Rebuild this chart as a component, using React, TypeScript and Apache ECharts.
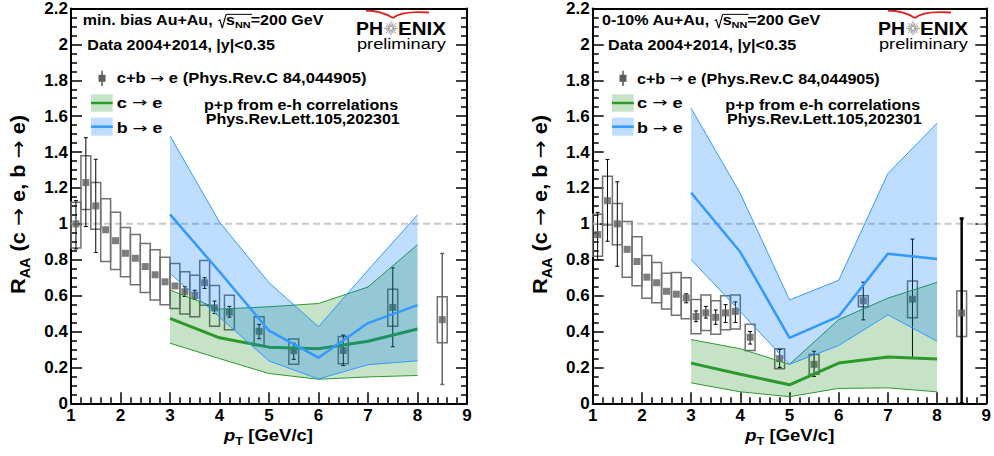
import React, { useEffect, useRef } from 'react';
import * as echarts from 'echarts';

// ---------------- data ----------------
const PT = [1.1, 1.3, 1.5, 1.7, 1.9, 2.1, 2.3, 2.5, 2.7, 2.9, 3.1, 3.3, 3.5, 3.7, 3.9, 4.2, 4.8, 5.5, 6.5, 7.5, 8.5];

// min. bias Au+Au (left panel)
const MB_Y = [1.0, 1.23, 1.1, 0.967, 0.906, 0.836, 0.808, 0.762, 0.716, 0.677, 0.654, 0.622, 0.602, 0.672, 0.532, 0.508, 0.401, 0.293, 0.294, 0.534, 0.466];
const MB_STAT_LO = [0.86, 0.985, 0.84, 0.967, 0.906, 0.836, 0.808, 0.762, 0.716, 0.677, 0.635, 0.595, 0.58, 0.64, 0.5, 0.48, 0.36, 0.245, 0.21, 0.315, 0.105];
const MB_STAT_HI = [1.13, 1.48, 1.36, 0.967, 0.906, 0.836, 0.808, 0.762, 0.716, 0.677, 0.675, 0.65, 0.63, 0.7, 0.57, 0.54, 0.44, 0.335, 0.38, 0.755, 0.835];
const MB_SYS_LO = [0.865, 1.08, 0.97, 0.79, 0.746, 0.705, 0.66, 0.617, 0.575, 0.549, 0.528, 0.497, 0.482, 0.547, 0.43, 0.41, 0.322, 0.217, 0.221, 0.429, 0.337];
const MB_SYS_HI = [1.12, 1.38, 1.23, 1.14, 1.064, 0.98, 0.94, 0.89, 0.856, 0.814, 0.779, 0.733, 0.714, 0.796, 0.657, 0.602, 0.482, 0.359, 0.372, 0.635, 0.594];

// 0-10% Au+Au (right panel)
const C_Y = [0.94, 1.129, 1.0, 0.858, 0.79, 0.703, 0.672, 0.624, 0.608, 0.587, 0.484, 0.504, 0.479, 0.504, 0.512, 0.368, 0.249, 0.217, 0.571, 0.58, 0.503];
const C_STAT_LO = [0.8, 0.903, 0.764, 0.858, 0.79, 0.703, 0.672, 0.605, 0.588, 0.56, 0.455, 0.475, 0.44, 0.45, 0.45, 0.33, 0.2, 0.15, 0.465, 0.255, 0.0];
const C_STAT_HI = [1.064, 1.359, 1.234, 0.858, 0.79, 0.703, 0.672, 0.645, 0.63, 0.61, 0.515, 0.54, 0.52, 0.55, 0.565, 0.4, 0.3, 0.29, 0.675, 0.915, 1.03];
const C_SYS_LO = [0.82, 0.994, 0.884, 0.703, 0.655, 0.586, 0.561, 0.525, 0.49, 0.471, 0.388, 0.405, 0.385, 0.41, 0.414, 0.294, 0.193, 0.162, 0.538, 0.477, 0.372];
const C_SYS_HI = [1.053, 1.265, 1.114, 1.013, 0.928, 0.823, 0.785, 0.725, 0.729, 0.7, 0.578, 0.604, 0.571, 0.6, 0.604, 0.44, 0.304, 0.272, 0.6, 0.681, 0.626];

// model bands (c->e, b->e)
const BAND_X = [3, 4, 5, 6, 7, 8];
const MB_B_UP = [1.49, 1.01, 0.672, 0.427, 0.742, 1.05];
const MB_B_MID = [1.053, 0.733, 0.405, 0.254, 0.447, 0.547];
const MB_B_LO = [0.724, 0.48, 0.236, 0.136, 0.215, 0.237];
const MB_C_UP = [0.631, 0.525, 0.538, 0.556, 0.648, 0.884];
const MB_C_MID = [0.473, 0.365, 0.313, 0.304, 0.346, 0.414];
const MB_C_LO = [0.335, 0.249, 0.166, 0.134, 0.147, 0.155];

const C_B_UP = [1.644, 1.169, 0.576, 0.685, 1.28, 1.561];
const C_B_MID = [1.173, 0.843, 0.365, 0.484, 0.834, 0.804];
const C_B_LO = [0.801, 0.511, 0.217, 0.322, 0.493, 0.346];
const C_C_UP = [0.355, 0.304, 0.217, 0.466, 0.586, 0.674];
const C_C_MID = [0.224, 0.162, 0.103, 0.224, 0.258, 0.247];
const C_C_LO = [0.114, 0.064, 0.037, 0.083, 0.086, 0.064];

const REF_LINE = [[1, 1], [9, 1]];

// ---------------- styles ----------------
const FONT = '"Liberation Sans", Arial, Helvetica, sans-serif';
const ARROW_FONT = '"DejaVu Sans", sans-serif';
const BLUE_FILL = 'rgba(0,120,255,0.25)';
const GREEN_FILL = 'rgba(0,128,0,0.22)';
const BLUE_LINE = '#3399ff';
const GREEN_LINE = '#2b9a2b';
const BOX_HW = 0.1;

let mctx: CanvasRenderingContext2D | null = null;
function textWidth(t: string, size: number, weight: string, italic: boolean, family: string) {
  if (!mctx) mctx = document.createElement('canvas').getContext('2d');
  mctx!.font = `${italic ? 'italic ' : ''}${weight} ${size}px ${family}`;
  return mctx!.measureText(t).width;
}

interface Seg { t?: string; size: number; dy?: number; italic?: boolean; weight?: string; rad?: boolean; over?: boolean; color?: string; family?: string }

function textLine(segs: Seg[], opt: { x: number; y: number; width?: number; sx?: number; sy?: number; rotation?: number; align?: string }) {
  const children: any[] = [];
  let cx = 0;
  let overStart = -1;
  let overEnd = -1;
  let overY = 0;
  for (const s of segs) {
    if (s.rad) {
      const f = s.size;
      const top = -0.76 * f;
      children.push({
        type: 'polyline',
        shape: { points: [[cx + 0.02 * f, -0.3 * f], [cx + 0.13 * f, -0.37 * f], [cx + 0.28 * f, 0.22 * f], [cx + 0.52 * f, top]] },
        style: { stroke: '#000', lineWidth: 1, fill: 'none' },
      });
      cx += 0.52 * f;
      overStart = cx;
      overY = top;
      continue;
    }
    const weight = s.weight ?? 'bold';
    const family = s.family ?? FONT;
    const w = textWidth(s.t!, s.size, weight, !!s.italic, family);
    children.push({
      type: 'text',
      x: cx,
      y: (s.dy ?? 0) - 0.35 * s.size,
      style: {
        text: s.t, fill: s.color ?? '#000', fontSize: s.size, fontWeight: weight,
        fontStyle: s.italic ? 'italic' : 'normal', fontFamily: family, align: 'left', verticalAlign: 'middle',
      },
    });
    cx += w;
    if (s.over) overEnd = cx;
  }
  if (overStart >= 0 && overEnd > overStart) {
    children.push({ type: 'line', shape: { x1: overStart, y1: overY, x2: overEnd + 1, y2: overY }, style: { stroke: '#000', lineWidth: 1 } });
  }
  const sx = opt.width ? opt.width / cx : (opt.sx ?? 1);
  let x = opt.x;
  if (opt.align === 'center') x = opt.x - (cx * sx) / 2;
  return { type: 'group', x, y: opt.y, scaleX: sx, scaleY: opt.sy ?? 1, rotation: opt.rotation ?? 0, children, silent: true };
}

const arrow = (size: number): Seg => ({ t: '→', size, weight: 'normal', family: ARROW_FONT, dy: 0.02 * size });

function logo(cx: number) {
  // cx: centre of the star
  const els: any[] = [];
  const base = 35;
  els.push(textLine([{ t: 'PH', size: 18 }], { x: cx - 8 - 27, y: base, width: 27 }));
  els.push(textLine([{ t: 'ENIX', size: 18 }], { x: cx + 7, y: base, width: 48 }));
  const cy = 28.3;
  const rays: any[] = [];
  for (let k = 0; k < 16; k++) {
    const a = (k * Math.PI) / 8;
    const r2 = k % 2 === 0 ? 7 : 5.5;
    rays.push({ type: 'line', shape: { x1: cx + 1.5 * Math.cos(a), y1: cy + 1.5 * Math.sin(a), x2: cx + r2 * Math.cos(a), y2: cy + r2 * Math.sin(a) }, style: { stroke: '#8c8c8c', lineWidth: 0.9 } });
  }
  els.push({ type: 'group', children: rays, silent: true });
  els.push({ type: 'bezierCurve', shape: { x1: cx - 25, y1: 10.5, cpx1: cx - 10, cpy1: 10.5, x2: cx + 2, y2: 18 }, style: { stroke: '#e02020', lineWidth: 1.8, fill: 'none' } });
  els.push({ type: 'bezierCurve', shape: { x1: cx + 2, y1: 18, cpx1: cx + 10, cpy1: 10.5, x2: cx + 38, y2: 12.5 }, style: { stroke: '#e02020', lineWidth: 1.8, fill: 'none' } });
  els.push(textLine([{ t: 'preliminary', size: 15, weight: 'normal' }], { x: cx - 34, y: 49, width: 89 }));
  return els;
}

function legend(x0: number, textX: number, texts: { cb: number; ce: number; pp: number; ppx: number; ppw: number; ref: number; refx: number; refw: number }) {
  const els: any[] = [];
  // c+b -> e marker
  els.push({ type: 'line', shape: { x1: x0 + 11, y1: 70.7, x2: x0 + 11, y2: 86 }, style: { stroke: '#000', lineWidth: 1 } });
  els.push({ type: 'rect', shape: { x: x0 + 7.5, y: 74.8, width: 7, height: 7 }, style: { fill: '#5c5c5c' } });
  els.push(textLine([{ t: 'c+b ', size: 14 }, arrow(14), { t: ' e (Phys.Rev.C 84,044905)', size: 14 }], { x: textX, y: 83.3, width: texts.cb }));
  // c -> e
  els.push({ type: 'rect', shape: { x: x0, y: 94.3, width: 21.7, height: 17.4 }, style: { fill: GREEN_FILL } });
  els.push({ type: 'line', shape: { x1: x0, y1: 103, x2: x0 + 21.7, y2: 103 }, style: { stroke: GREEN_LINE, lineWidth: 2.5 } });
  els.push(textLine([{ t: 'c ', size: 14 }, arrow(14), { t: ' e', size: 14 }], { x: textX, y: 107.3, width: texts.ce }));
  // b -> e
  els.push({ type: 'rect', shape: { x: x0, y: 117.7, width: 21.7, height: 18 }, style: { fill: BLUE_FILL } });
  els.push({ type: 'line', shape: { x1: x0, y1: 126.7, x2: x0 + 21.7, y2: 126.7 }, style: { stroke: BLUE_LINE, lineWidth: 2.5 } });
  els.push(textLine([{ t: 'b ', size: 14 }, arrow(14), { t: ' e', size: 14 }], { x: textX, y: 132.7, width: texts.ce }));
  els.push(textLine([{ t: 'p+p from e-h correlations', size: 14 }], { x: texts.ppx, y: texts.pp, width: texts.ppw }));
  els.push(textLine([{ t: 'Phys.Rev.Lett.105,202301', size: 14 }], { x: texts.refx, y: texts.ref, width: texts.refw }));
  return els;
}

function axesFor(grid: number) {
  const tickStyle = { color: '#000', width: 1.5 };
  const lineStyle = { color: '#000', width: 2 };
  const label = { color: '#000', fontSize: 17, fontWeight: 'bold', fontFamily: FONT };
  const xs = [
    {
      type: 'value', gridIndex: grid, min: 1, max: 9, interval: 1, position: 'bottom',
      axisLine: { show: true, onZero: false, lineStyle },
      axisTick: { show: true, inside: true, length: 11, lineStyle: tickStyle },
      minorTick: { show: true, splitNumber: 5, length: 6, lineStyle: tickStyle },
      splitLine: { show: false },
      axisLabel: { ...label, margin: 4 },
    },
    {
      type: 'value', gridIndex: grid, min: 1, max: 9, interval: 1, position: 'top',
      axisLine: { show: true, onZero: false, lineStyle },
      axisTick: { show: false }, axisLabel: { show: false }, splitLine: { show: false },
    },
  ];
  const ys = [
    {
      type: 'value', gridIndex: grid, min: 0, max: 2.2, interval: 0.2, position: 'left',
      axisLine: { show: true, onZero: false, lineStyle },
      axisTick: { show: true, inside: true, length: 11, lineStyle: tickStyle },
      minorTick: { show: true, splitNumber: 4, length: 6, lineStyle: tickStyle },
      splitLine: { show: false },
      axisLabel: { ...label, margin: 3 },
    },
    {
      type: 'value', gridIndex: grid, min: 0, max: 2.2, interval: 0.2, position: 'right',
      axisLine: { show: true, onZero: false, lineStyle },
      axisTick: { show: true, inside: true, length: 11, lineStyle: tickStyle },
      minorTick: { show: true, splitNumber: 4, length: 6, lineStyle: tickStyle },
      splitLine: { show: false },
      axisLabel: { show: false },
    },
  ];
  return { xs, ys };
}

function seriesFor(
  p: number, y: number[], sLo: number[], sHi: number[], yLo: number[], yHi: number[],
  bUp: number[], bMid: number[], bLo: number[], cUp: number[], cMid: number[], cLo: number[],
  lastColor: string, lastWidth: number,
) {
  const xi = p * 2;
  const yi = p * 2;
  const rows = PT.map((x, i) => [x, y[i], sLo[i], sHi[i], yLo[i], yHi[i]]);
  const n = rows.length;
  const pair = (arr: number[]) => BAND_X.map((x, i) => [x, arr[i]]);
  const band = (up: number[], lo: number[], fill: string, z: number) => ({
    type: 'custom', xAxisIndex: xi, yAxisIndex: yi, silent: true, z, clip: false,
    data: [[BAND_X[0], lo[0]]], encode: { x: 0, y: 1 },
    renderItem: (_params: any, api: any) => {
      const pts: number[][] = [];
      for (let i = 0; i < BAND_X.length; i++) pts.push(api.coord([BAND_X[i], up[i]]));
      for (let i = BAND_X.length - 1; i >= 0; i--) pts.push(api.coord([BAND_X[i], lo[i]]));
      return { type: 'polygon', shape: { points: pts }, style: { fill, stroke: 'none' } };
    },
  });
  const line = (arr: number[], color: string, width: number, z: number) => ({
    type: 'line', xAxisIndex: xi, yAxisIndex: yi, data: pair(arr), symbol: 'none', silent: true, z,
    lineStyle: { color, width }, emphasis: { disabled: true },
  });
  return [
    {
      type: 'line', xAxisIndex: xi, yAxisIndex: yi, data: REF_LINE, symbol: 'none', silent: true, z: 1,
      lineStyle: { color: '#c8c8c8', width: 2, type: [7, 4] },
    },
    {
      type: 'custom', xAxisIndex: xi, yAxisIndex: yi, silent: true, z: 2, data: rows, encode: { x: 0, y: 1 },
      renderItem: (_params: any, api: any) => {
        const x = api.value(0);
        const a = api.coord([x - BOX_HW, api.value(5)]);
        const b = api.coord([x + BOX_HW, api.value(4)]);
        return { type: 'rect', shape: { x: a[0], y: a[1], width: b[0] - a[0], height: b[1] - a[1] }, style: { fill: 'none', stroke: '#707070', lineWidth: 1.5 } };
      },
    },
    {
      type: 'custom', xAxisIndex: xi, yAxisIndex: yi, silent: true, z: 3, data: rows, encode: { x: 0, y: 1 },
      renderItem: (params: any, api: any) => {
        const x = api.value(0);
        const lo = api.value(2);
        const hi = api.value(3);
        if (hi - lo < 0.045) return { type: 'group', children: [] };
        const a = api.coord([x, hi]);
        const b = api.coord([x, lo]);
        const last = params.dataIndex === n - 1;
        const st = { stroke: last ? lastColor : '#000', lineWidth: last ? lastWidth : 1 };
        return {
          type: 'group', children: [
            { type: 'line', shape: { x1: a[0], y1: a[1], x2: b[0], y2: b[1] }, style: st },
            { type: 'line', shape: { x1: a[0] - 2, y1: a[1], x2: a[0] + 2, y2: a[1] }, style: st },
            { type: 'line', shape: { x1: b[0] - 2, y1: b[1], x2: b[0] + 2, y2: b[1] }, style: st },
          ],
        };
      },
    },
    {
      type: 'scatter', xAxisIndex: xi, yAxisIndex: yi, silent: true, z: 4,
      data: PT.map((x, i) => [x, y[i]]), symbol: 'rect', symbolSize: 7, itemStyle: { color: '#5c5c5c' },
    },
    band(cUp, cLo, GREEN_FILL, 5),
    line(cUp, GREEN_LINE, 1, 6),
    line(cLo, GREEN_LINE, 1, 6),
    line(cMid, GREEN_LINE, 3, 6),
    band(bUp, bLo, BLUE_FILL, 7),
    line(bUp, BLUE_LINE, 1, 8),
    line(bLo, BLUE_LINE, 1, 8),
    line(bMid, BLUE_LINE, 2.5, 8),
  ];
}

export default function App() {
  const ref = useRef<HTMLDivElement>(null);
  useEffect(() => {
    if (!ref.current) return;
    const chart = echarts.init(ref.current, null, { renderer: 'svg' });
    const a0 = axesFor(0);
    const a1 = axesFor(1);

    const yTitle = (x: number) => textLine(
      [{ t: 'R', size: 18 }, { t: 'AA', size: 12, dy: 4 }, { t: ' (c ', size: 18 }, arrow(18), { t: ' e, b ', size: 18 }, arrow(18), { t: ' e)', size: 18 }],
      { x, y: 294, width: 179, sy: 1.15, rotation: Math.PI / 2 },
    );
    const xTitle = (x: number) => textLine(
      [{ t: 'p', size: 16, italic: true }, { t: 'T', size: 11, dy: 4 }, { t: ' [GeV/c]', size: 16 }],
      { x, y: 441.5, width: 89 },
    );

    const graphic: any[] = [
      textLine([{ t: 'min. bias Au+Au, ', size: 14 }, { rad: true, size: 14 }, { t: 's', size: 14, over: true }, { t: 'NN', size: 9.5, dy: 3, over: true }, { t: '=200 GeV', size: 14 }], { x: 82.7, y: 25, width: 240.7 }),
      textLine([{ t: 'Data 2004+2014, |y|<0.35', size: 14 }], { x: 87.3, y: 50, width: 187.7 }),
      textLine([{ t: '0-10% Au+Au, ', size: 14 }, { rad: true, size: 14 }, { t: 's', size: 14, over: true }, { t: 'NN', size: 9.5, dy: 3, over: true }, { t: '=200 GeV', size: 14 }], { x: 602, y: 25, width: 218.3 }),
      textLine([{ t: 'Data 2004+2014, |y|<0.35', size: 14 }], { x: 608, y: 50, width: 188.3 }),
      ...legend(91, 116.7, { cb: 250, ce: 45.7, pp: 110, ppx: 204, ppw: 194.3, ref: 124, refx: 205.7, refw: 194.3 }),
      ...legend(612, 637, { cb: 242.7, ce: 45.7, pp: 110, ppx: 725.3, ppw: 195, ref: 124, refx: 727, refw: 195 }),
      ...logo(391),
      ...logo(913),
      yTitle(25),
      yTitle(547),
      xTitle(224),
      xTitle(745.3),
    ];

    chart.setOption({
      animation: false,
      backgroundColor: '#fff',
      grid: [
        { left: 71, top: 5, width: 396, height: 398.3, show: false },
        { left: 592.7, top: 5, width: 394.3, height: 398.3, show: false },
      ],
      xAxis: [...a0.xs, ...a1.xs],
      yAxis: [...a0.ys, ...a1.ys],
      series: [
        ...seriesFor(0, MB_Y, MB_STAT_LO, MB_STAT_HI, MB_SYS_LO, MB_SYS_HI, MB_B_UP, MB_B_MID, MB_B_LO, MB_C_UP, MB_C_MID, MB_C_LO, '#666666', 1.5),
        ...seriesFor(1, C_Y, C_STAT_LO, C_STAT_HI, C_SYS_LO, C_SYS_HI, C_B_UP, C_B_MID, C_B_LO, C_C_UP, C_C_MID, C_C_LO, '#000000', 2.5),
      ],
      graphic,
    });
    return () => chart.dispose();
  }, []);
  return <div ref={ref} style={{ position: 'fixed', left: 0, top: 0, width: 994, height: 456, background: '#fff' }} />;
}
